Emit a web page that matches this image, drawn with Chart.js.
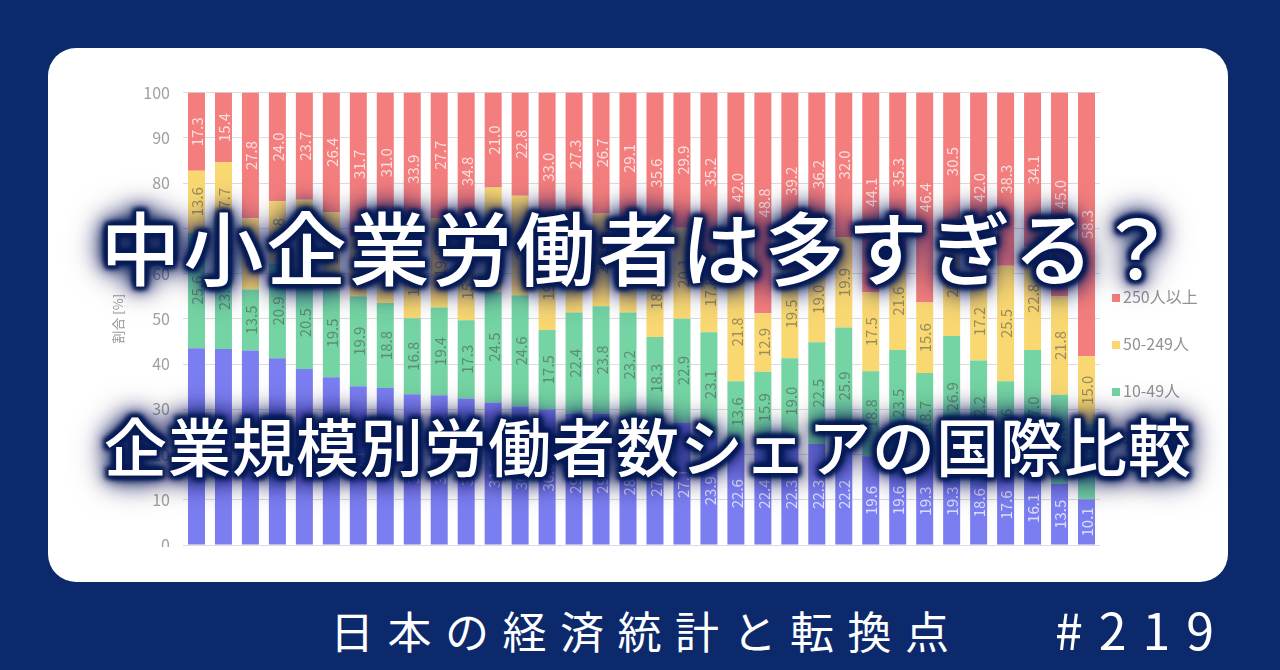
<!DOCTYPE html>
<html lang="ja">
<head>
<meta charset="utf-8">
<script src="https://cdn.jsdelivr.net/npm/chart.js@4"></script>
<style>
  html, body { margin: 0; padding: 0; }
  body {
    width: 1280px; height: 670px; overflow: hidden; position: relative;
    background: #0c2a6b;
    font-family: "Noto Sans CJK JP", "Noto Sans", sans-serif;
  }
  #panel {
    position: absolute; left: 48px; top: 48px; width: 1180px; height: 534px;
    background: #fff; border-radius: 28px;
  }
  #chartBox {
    position: absolute; left: 48px; top: 70px; width: 1180px; height: 477px;
    overflow: hidden;
  }
  #chartInner { position: relative; width: 1180px; height: 500px; }
  #legend { position: absolute; left: 0; top: 0; }
  .lg {
    position: absolute; left: 1112px; height: 20px; line-height: 20px;
    font-size: 16px; color: #929292; white-space: nowrap;
  }
  .lg i {
    display: inline-block; width: 8px; height: 8px; margin-right: 3px;
    vertical-align: middle; position: relative; top: -1px;
  }
  .title {
    position: absolute; left: 0; width: 1280px; text-align: center;
    color: #fff; font-weight: 500; white-space: nowrap;
    text-shadow:
      0 0 2px #081c56, 0 0 4px #081c56, 0 0 6px #081c56, 0 0 8px #081c56,
      0 0 11px #081c56, 0 0 14px #081c56, 0 0 18px #081c56, 0 0 24px #081c56,
      0 0 30px #081c56, 0 0 38px #081c56,
      3px 3px 4px #081c56, -3px -3px 4px #081c56, 3px -3px 4px #081c56, -3px 3px 4px #081c56;
  }
  #t1 { top: 196px; font-size: 80px; line-height: 96px; letter-spacing: 3px; }
  #t2 { top: 406px; left: 8px; font-size: 63px; line-height: 76px; letter-spacing: 1px; }
  .foot { position: absolute; color: #fff; white-space: nowrap; font-weight: 400; }
  #f1 { left: 330px; top: 600px; font-size: 44px; line-height: 60px; letter-spacing: 13.5px; }
  #f2 { left: 1055px; top: 598px; font-size: 50px; line-height: 60px; letter-spacing: 16px; }
</style>
</head>
<body>
<div id="panel"></div>
<div id="chartBox"><div id="chartInner"><canvas id="chart"></canvas></div></div>
<div id="legend"></div>
<div class="title" id="t1">中小企業労働者は多すぎる？</div>
<div class="title" id="t2">企業規模別労働者数シェアの国際比較</div>
<div class="foot" id="f1">日本の経済統計と転換点</div>
<div class="foot" id="f2">#219</div>
<script>
// countries are not readable in the picture, so bars are just numbered
var categories = ['1','2','3','4','5','6','7','8','9','10','11','12','13','14','15','16','17',
  '18','19','20','21','22','23','24','25','26','27','28','29','30','31','32','33','34'];

// share of workers by firm size [%]
var micro = [43.5, 43.3, 43.0, 41.3, 38.9, 37.1, 35.1, 34.7, 33.3, 33.1, 32.4, 31.5, 30.6, 30.0, 29.0, 29.0, 28.2,
  27.7, 27.1, 23.9, 22.6, 22.4, 22.3, 22.3, 22.2, 19.6, 19.6, 19.3, 19.3, 18.6, 17.6, 16.1, 13.5, 10.1];
var small = [25.6, 23.6, 13.5, 20.9, 20.5, 19.5, 19.9, 18.8, 16.8, 19.4, 17.3, 24.5, 24.6, 17.5, 22.4, 23.8, 23.2,
  18.3, 22.9, 23.1, 13.6, 15.9, 19.0, 22.5, 25.9, 18.8, 23.5, 18.7, 26.9, 22.2, 18.6, 27.0, 19.7, 16.6];
var medium = [13.6, 17.7, 15.7, 13.8, 16.9, 17.0, 13.3, 15.5, 16.0, 19.8, 15.5, 23.0, 22.0, 19.5, 21.3, 20.5, 19.5,
  18.4, 20.1, 17.8, 21.8, 12.9, 19.5, 19.0, 19.9, 17.5, 21.6, 15.6, 23.3, 17.2, 25.5, 22.8, 21.8, 15.0];
var large = [17.3, 15.4, 27.8, 24.0, 23.7, 26.4, 31.7, 31.0, 33.9, 27.7, 34.8, 21.0, 22.8, 33.0, 27.3, 26.7, 29.1,
  35.6, 29.9, 35.2, 42.0, 48.8, 39.2, 36.2, 32.0, 44.1, 35.3, 46.4, 30.5, 42.0, 38.3, 34.1, 45.0, 58.3];

var seriesNames = ['1-9人', '10-49人', '50-249人', '250人以上'];
var yTicks = [0, 10, 20, 30, 40, 50, 60, 70, 80, 90, 100];

var colors = ['#7b7ef1', '#74d4a3', '#f9d872', '#f47e7e'];
var labelColors = ['rgba(255,255,255,0.75)', 'rgba(80,90,85,0.6)', 'rgba(90,90,80,0.6)', 'rgba(255,255,255,0.75)'];
var values = [micro, small, medium, large];

var datasets = values.map(function(v, i) {
  return {
    label: seriesNames[i],
    data: v,
    backgroundColor: colors[i],
    borderWidth: 0,
    barPercentage: 0.63,
    categoryPercentage: 1.0
  };
});

// rotated value labels inside each segment
var segLabels = {
  id: 'segLabels',
  afterDatasetsDraw: function(chart) {
    var ctx = chart.ctx;
    ctx.save();
    ctx.font = '15px "Noto Sans CJK JP", sans-serif';
    ctx.textAlign = 'center';
    ctx.textBaseline = 'middle';
    chart.data.datasets.forEach(function(ds, i) {
      var meta = chart.getDatasetMeta(i);
      ctx.fillStyle = labelColors[i];
      meta.data.forEach(function(bar, j) {
        var cy = (bar.y + bar.base) / 2;
        ctx.save();
        ctx.translate(bar.x, cy);
        ctx.rotate(-Math.PI / 2);
        ctx.fillText(ds.data[j].toFixed(1), 0, 1);
        ctx.restore();
      });
    });
    ctx.restore();
  }
};

new Chart(document.getElementById('chart').getContext('2d'), {
  type: 'bar',
  data: { labels: categories, datasets: datasets },
  options: {
    responsive: true,
    maintainAspectRatio: false,
    animation: false,
    layout: { padding: { left: 58, right: 128, top: 22, bottom: 25 } },
    plugins: { legend: { display: false }, tooltip: { enabled: false } },
    scales: {
      x: { stacked: true, display: false },
      y: {
        stacked: true,
        min: 0,
        max: 100,
        afterBuildTicks: function(axis) { axis.ticks = yTicks.map(function(v) { return { value: v }; }); },
        afterFit: function(axis) { axis.width = 77; },
        ticks: { padding: 13, color: '#a0a0a0', font: { size: 16, family: '"Noto Sans CJK JP", sans-serif' } },
        grid: { color: '#dcdcdc', drawTicks: false },
        border: { display: false },
        title: {
          display: true,
          text: '割合 [%]',
          color: '#999',
          font: { size: 13, family: '"Noto Sans CJK JP", sans-serif' },
          padding: { top: 4, bottom: 4 }
        }
      }
    }
  },
  plugins: [segLabels]
});

// legend, top item = largest firms
var legendY = [296, 343, 390, 437];
var lg = document.getElementById('legend');
for (var k = 0; k < 4; k++) {
  var s = 3 - k;
  var d = document.createElement('div');
  d.className = 'lg';
  d.style.top = (legendY[k] - 10) + 'px';
  d.innerHTML = '<i style="background:' + colors[s] + '"></i>' + seriesNames[s];
  lg.appendChild(d);
}
</script>
</body>
</html>
